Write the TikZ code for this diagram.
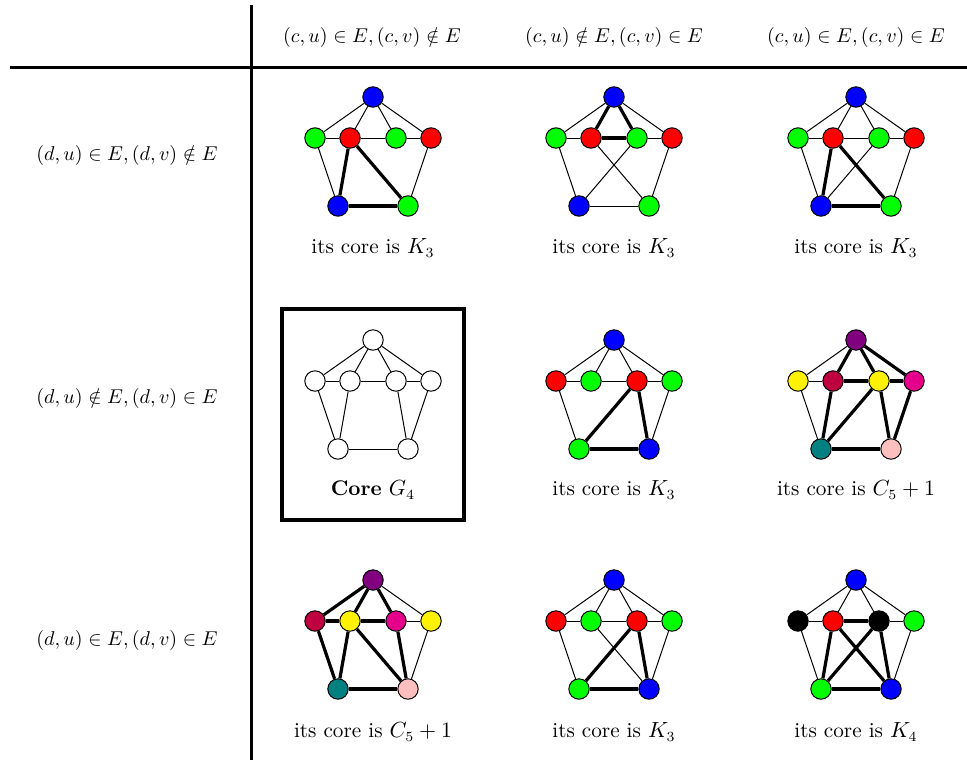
\documentclass[tikz,border=0pt]{standalone}
\usepackage{amssymb}
\definecolor{cviolet}{rgb}{0.5,0,0.5}
\definecolor{cpurple}{rgb}{0.75,0,0.25}
\definecolor{cmag}{rgb}{0.9,0,0.55}
\definecolor{cteal}{rgb}{0,0.5,0.5}
\definecolor{cpink}{rgb}{1,0.75,0.75}
\newcommand\mkverts[8]{%
  \node[vtx,fill=#2] (#1a) at (0,0) {};
  \node[vtx,fill=#3] (#1b) at (-58,41) {};
  \node[vtx,fill=#4] (#1c) at (-23,41) {};
  \node[vtx,fill=#5] (#1d) at (23,41) {};
  \node[vtx,fill=#6] (#1e) at (58,41) {};
  \node[vtx,fill=#7] (#1f) at (-35,109) {};
  \node[vtx,fill=#8] (#1g) at (35,109) {};
}
\newcommand\mkedges[3]{%
  \foreach \u/\v in {#2} {\draw[thinedge] (#1\u) -- (#1\v);}
  \foreach \u/\v in {#3} {\draw[thickedge] (#1\u) -- (#1\v);}
}
\begin{document}
\begin{tikzpicture}[x=0.5pt,y=-0.5pt,
  vtx/.style={circle,draw=black,line width=0.5pt,minimum size=10.2pt,inner sep=0pt},
  thinedge/.style={line width=0.5pt},
  thickedge/.style={line width=1.6pt},
  rule/.style={line width=1.5pt},
  lbl/.style={font=\fontsize{10.6}{12.5}\selectfont},
  hdr/.style={font=\fontsize{10.1}{12}\selectfont}]
\useasboundingbox (0,0) rectangle (967,760);
% table rules
\coordinate (vt) at (251,5);
\coordinate (vb) at (251,760);
\coordinate (hl) at (10,67);
\coordinate (hr) at (967,67);
\draw[rule] (vt) -- (vb);
\draw[rule] (hl) -- (hr);
% headers
\node[hdr] (h1) at (372,37) {$(c,u)\in E,(c,v)\notin E$};
\node[hdr] (h2) at (614,37) {$(c,u)\notin E,(c,v)\in E$};
\node[hdr] (h3) at (856,37) {$(c,u)\in E,(c,v)\in E$};
\node[hdr] (r1) at (127,155) {$(d,u)\in E,(d,v)\notin E$};
\node[hdr] (r2) at (127,398) {$(d,u)\notin E,(d,v)\in E$};
\node[hdr] (r3) at (127,640) {$(d,u)\in E,(d,v)\in E$};
% row 1
\begin{scope}[shift={(373,97)}]
\mkverts{A}{blue}{green}{red}{green}{red}{blue}{green}
\mkedges{A}{a/b,a/c,a/d,a/e,b/c,c/d,d/e,b/f,e/g}{c/f,c/g,f/g}
\end{scope}
\begin{scope}[shift={(614,97)}]
\mkverts{B}{blue}{green}{red}{green}{red}{blue}{green}
\mkedges{B}{a/b,a/e,b/c,d/e,b/f,c/g,d/f,e/g,f/g}{a/c,a/d,c/d}
\end{scope}
\begin{scope}[shift={(856,97)}]
\mkverts{C}{blue}{green}{red}{green}{red}{blue}{green}
\mkedges{C}{a/b,a/c,a/d,a/e,b/c,c/d,d/e,b/f,d/f,e/g}{c/f,c/g,f/g}
\end{scope}
\node[lbl] (t1) at (373,248) {its core is $K_3$};
\node[lbl] (t2) at (614,248) {its core is $K_3$};
\node[lbl] (t3) at (856,248) {its core is $K_3$};
% row 2
\node[draw=black,line width=1.6pt,minimum width=182*0.5pt,minimum height=211*0.5pt] (corebox) at (373,414.5) {};
\begin{scope}[shift={(373,340)}]
\mkverts{D}{white}{white}{white}{white}{white}{white}{white}
\mkedges{D}{a/b,a/c,a/d,a/e,b/c,c/d,d/e,b/f,c/f,d/g,e/g,f/g}{}
\end{scope}
\begin{scope}[shift={(614,340)}]
\mkverts{E}{blue}{red}{green}{red}{green}{green}{blue}
\mkedges{E}{a/b,a/c,a/d,a/e,b/c,c/d,d/e,b/f,e/g}{d/f,d/g,f/g}
\end{scope}
\begin{scope}[shift={(856,340)}]
\mkverts{F}{cviolet}{yellow}{cpurple}{yellow}{cmag}{cteal}{cpink}
\mkedges{F}{a/b,b/c,b/f}{a/c,a/d,a/e,c/d,d/e,c/f,d/f,d/g,e/g,f/g}
\end{scope}
\node[lbl] (t4) at (373,490) {\textbf{Core} $G_4$};
\node[lbl] (t5) at (614,490) {its core is $K_3$};
\node[lbl] (t6) at (856,490) {its core is $C_5+1$};
% row 3
\begin{scope}[shift={(373,580)}]
\mkverts{G}{cviolet}{cpurple}{yellow}{cmag}{yellow}{cteal}{cpink}
\mkedges{G}{a/e,d/e,e/g}{a/b,a/c,a/d,b/c,c/d,b/f,c/f,c/g,d/g,f/g}
\end{scope}
\begin{scope}[shift={(614,580)}]
\mkverts{H}{blue}{red}{green}{red}{green}{green}{blue}
\mkedges{H}{a/b,a/c,a/d,a/e,b/c,c/d,d/e,b/f,c/g,e/g}{d/f,d/g,f/g}
\end{scope}
\begin{scope}[shift={(856,580)}]
\mkverts{I}{blue}{black}{red}{black}{green}{green}{blue}
\mkedges{I}{a/b,a/c,a/d,a/e,b/c,d/e,b/f,e/g}{c/d,c/f,c/g,d/f,d/g,f/g}
\end{scope}
\node[lbl] (t7) at (373,732) {its core is $C_5+1$};
\node[lbl] (t8) at (614,732) {its core is $K_3$};
\node[lbl] (t9) at (856,732) {its core is $K_4$};
\end{tikzpicture}
\end{document}
